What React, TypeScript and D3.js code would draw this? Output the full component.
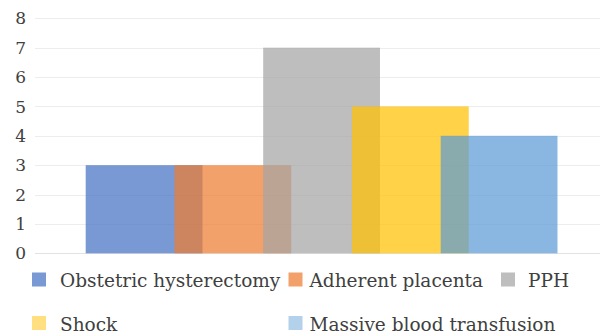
import React from 'react';
import * as d3 from 'd3';

// Series of the single-category clustered column chart
const seriesNames = [
  'Obstetric hysterectomy',
  'Adherent placenta',
  'PPH',
  'Shock',
  'Massive blood transfusion',
];
const seriesValues = [3, 3, 7, 5, 4];
const seriesColors = ['#4472C4', '#ED7D31', '#A5A5A5', '#FFC000', '#5B9BD5'];
const legendOpacity = [0.72, 0.72, 0.72, 0.5, 0.46];
const yTicks = [0, 1, 2, 3, 4, 5, 6, 7, 8];

const W = 600;
const H = 335;
const FONT = '"DejaVu Serif", "Liberation Serif", serif';
const TEXT = '#404040';

// Legend layout: [row, column x of swatch, text x]
const legendSlots = [
  { row: 0, sx: 32, tx: 60 },
  { row: 0, sx: 288.5, tx: 309.5 },
  { row: 0, sx: 501, tx: 528 },
  { row: 1, sx: 32, tx: 60 },
  { row: 1, sx: 288.5, tx: 309.5 },
];
const legendRowY = [272.5, 316];

export default function App() {
  const y = d3.scaleLinear().domain([0, 8]).range([253.3, 18.3]);
  const x = d3
    .scaleBand<string>()
    .domain(seriesNames)
    .range([85.7, 85.7 + 5 * 88.75])
    .paddingInner(0)
    .paddingOuter(0);
  const overlap = 0.24;
  const barWidth = x.step() / (1 - overlap);

  const gridX0 = 35;
  const gridX1 = 600;

  return (
    <div style={{ position: 'fixed', left: 0, top: 0, width: W, height: H, background: '#fff' }}>
      <svg width={W} height={H} viewBox={`0 0 ${W} ${H}`} style={{ display: 'block' }}>
        <rect x={0} y={0} width={W} height={H} fill="#fff" />
        {/* horizontal gridlines */}
        {yTicks.map((t) => (
          <line
            key={'g' + t}
            x1={gridX0}
            x2={gridX1}
            y1={Math.round(y(t)) + 0.5}
            y2={Math.round(y(t)) + 0.5}
            stroke={t === 0 ? '#E2E2E2' : '#EDEDED'}
            strokeWidth={1}
          />
        ))}
        {/* y-axis tick labels */}
        {yTicks.map((t) => (
          <text
            key={'l' + t}
            x={26}
            y={y(t)}
            dy="0.36em"
            textAnchor="end"
            fontFamily={FONT}
            fontSize={17}
            fill={TEXT}
          >
            {t}
          </text>
        ))}
        {/* overlapping semi-transparent columns */}
        {seriesNames.map((name, i) => (
          <rect
            key={'b' + name}
            x={x(name)}
            y={y(seriesValues[i])}
            width={barWidth}
            height={y(0) - y(seriesValues[i])}
            fill={seriesColors[i]}
            fillOpacity={0.72}
          />
        ))}
        {/* legend */}
        {seriesNames.map((name, i) => {
          const slot = legendSlots[i];
          const top = legendRowY[slot.row];
          return (
            <g key={'lg' + name}>
              <rect
                x={slot.sx}
                y={top}
                width={14}
                height={14}
                fill={seriesColors[i]}
                fillOpacity={legendOpacity[i]}
              />
              <text
                x={slot.tx}
                y={top + 14.5}
                fontFamily={FONT}
                fontSize={18.5}
                fill={TEXT}
              >
                {name}
              </text>
            </g>
          );
        })}
      </svg>
    </div>
  );
}
